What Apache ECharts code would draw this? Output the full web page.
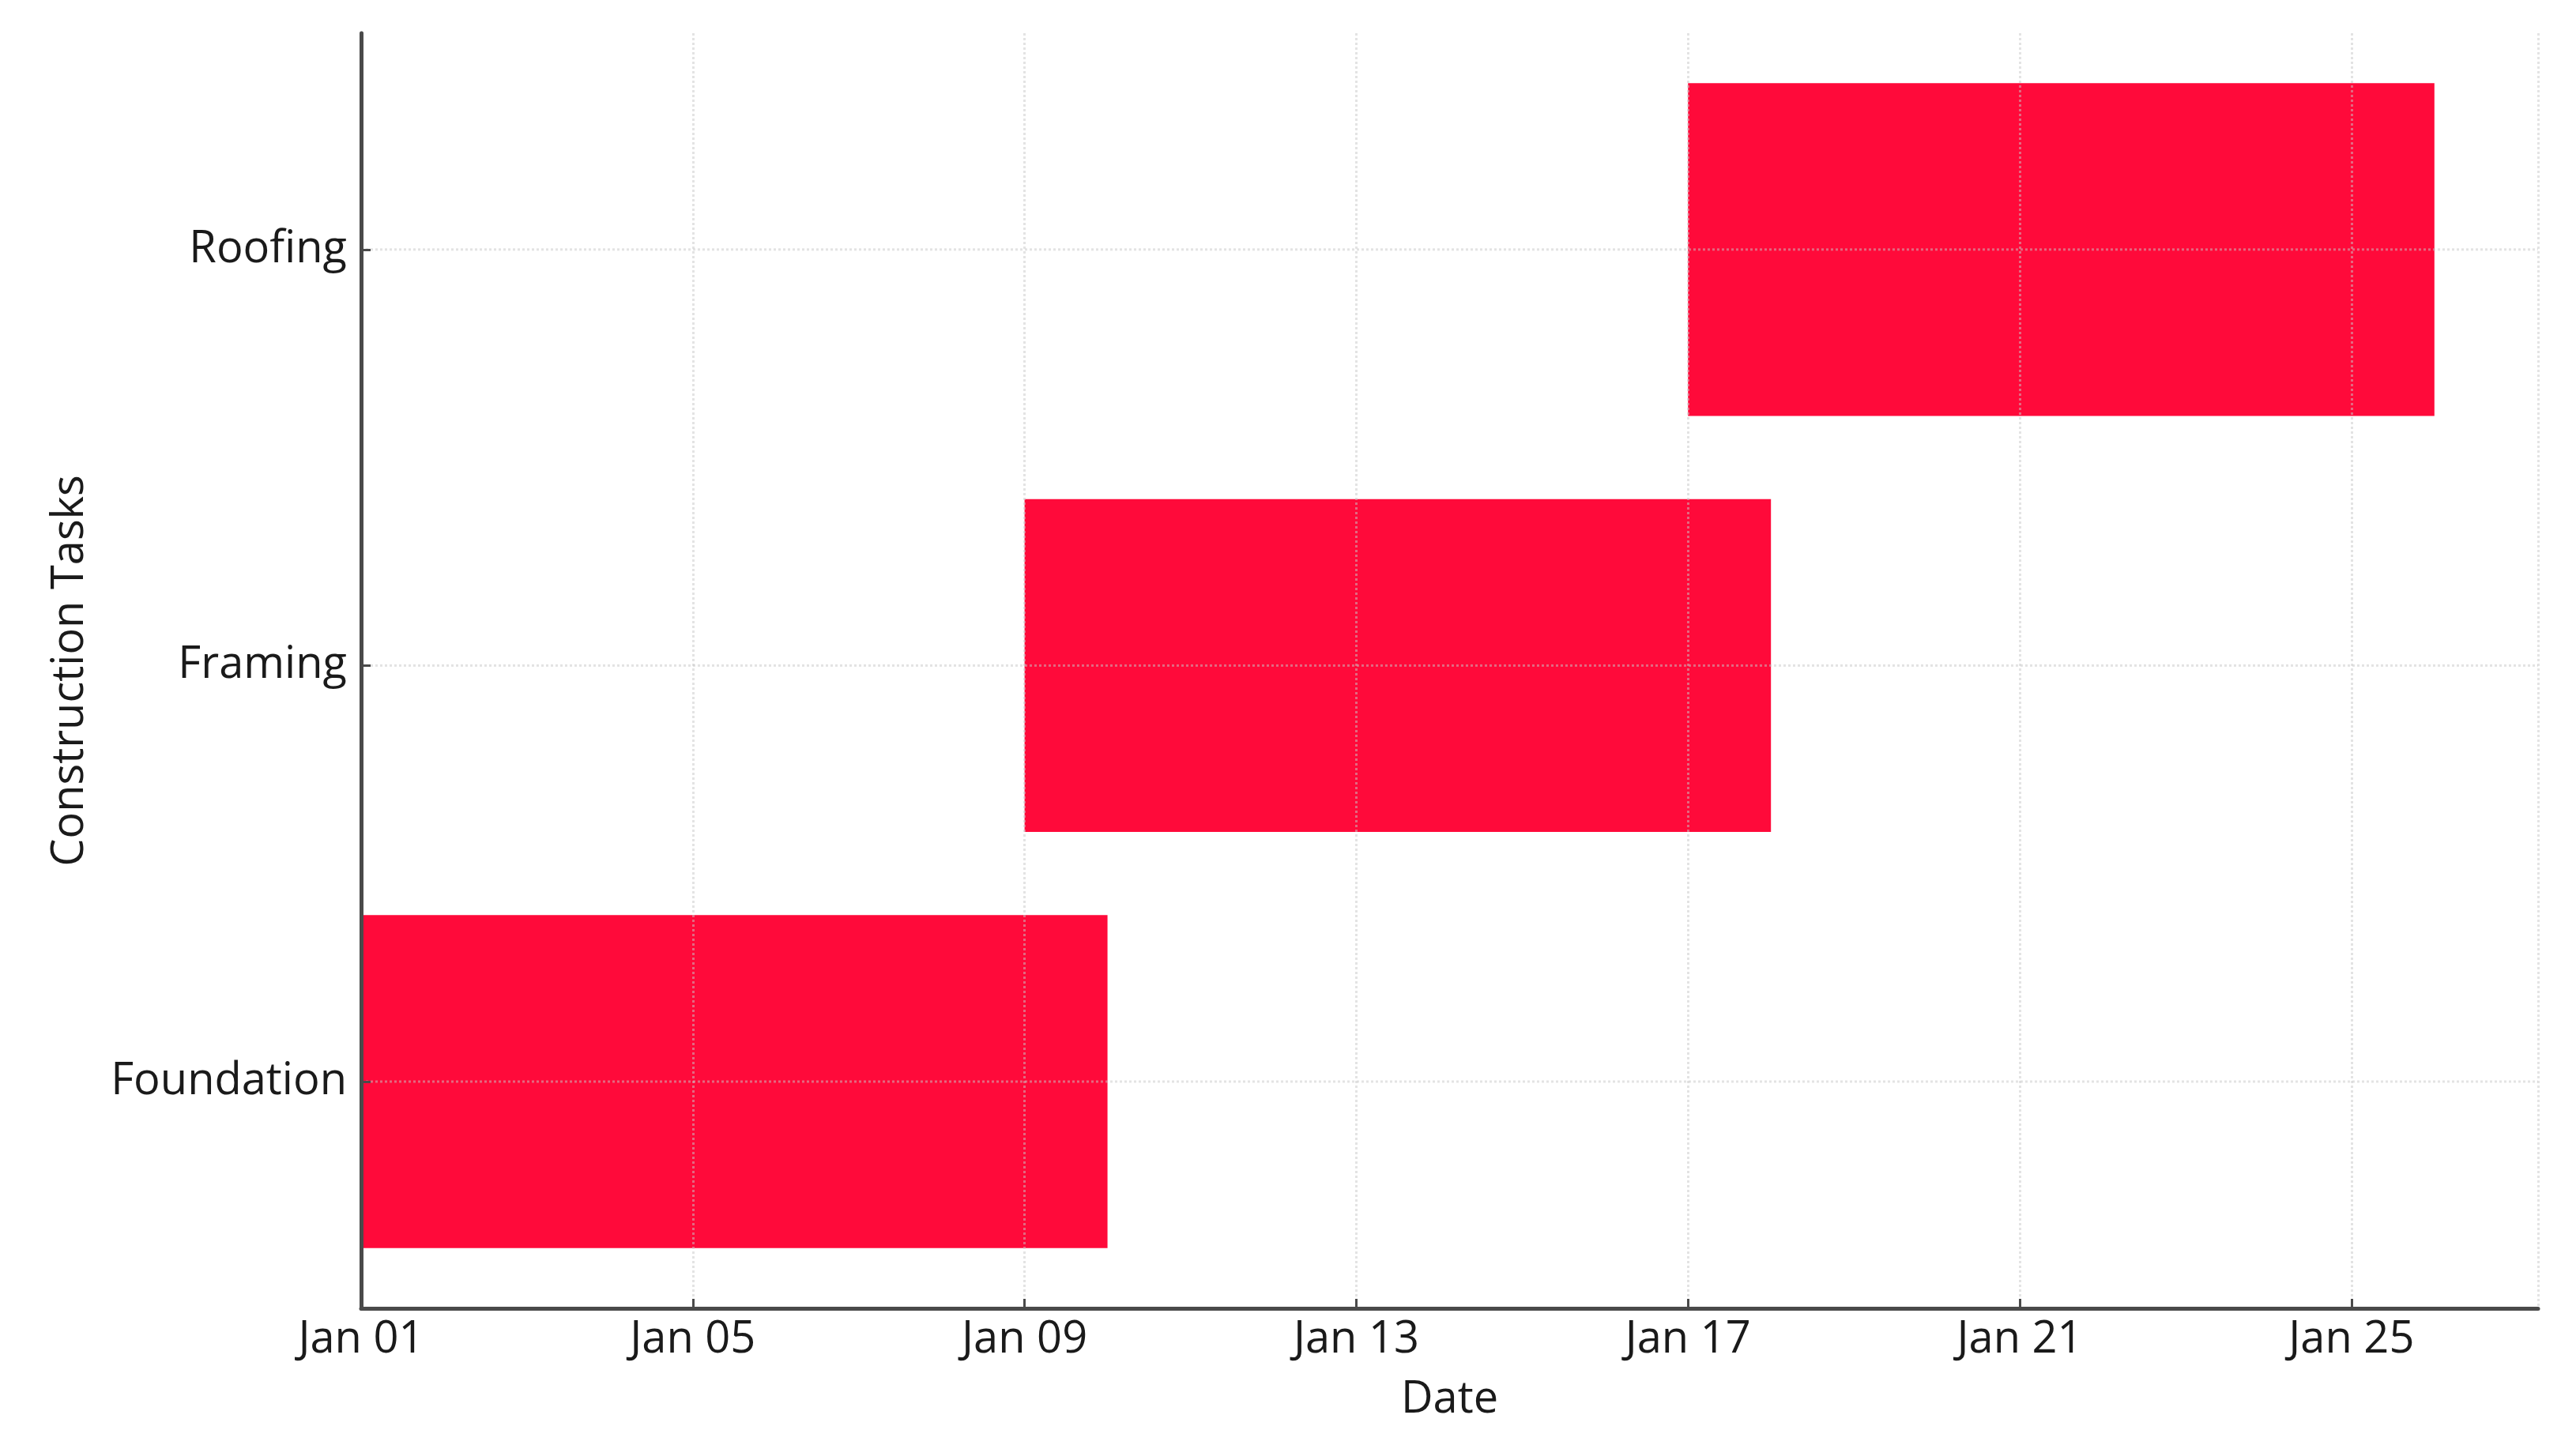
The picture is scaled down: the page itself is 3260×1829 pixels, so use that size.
<!DOCTYPE html>
<html>
<head>
<meta charset="utf-8">
<script src="https://cdn.jsdelivr.net/npm/echarts@6/dist/echarts.min.js"></script>
<style>html,body{margin:0;padding:0;background:#fff;}#chart{width:3260px;height:1829px;}</style>
</head>
<body>
<div id="chart"></div>
<script>
// Data
var tasks = ['Foundation', 'Framing', 'Roofing'];
var startDates = ['2024-01-01', '2024-01-09', '2024-01-17'];
var endDates = ['2024-01-10', '2024-01-18', '2024-01-26'];
var axisStart = '2024-01-01';
var axisEnd = '2024-01-27T06:00:00';
var tickDays = 4;

var DAY = 86400000;
var t0 = Date.parse(axisStart + 'T00:00:00Z');
function dayOffset(s) {
  var str = s.indexOf('T') >= 0 ? s + 'Z' : s + 'T00:00:00Z';
  return (Date.parse(str) - t0) / DAY;
}
var months = ['Jan','Feb','Mar','Apr','May','Jun','Jul','Aug','Sep','Oct','Nov','Dec'];
function fmt(v) {
  var d = new Date(t0 + v * DAY);
  var dd = d.getUTCDate();
  return months[d.getUTCMonth()] + ' ' + (dd < 10 ? '0' + dd : dd);
}

var data = tasks.map(function (t, i) {
  return [i, dayOffset(startDates[i]), dayOffset(endDates[i])];
});

var FONT = '"Open Sans", "DejaVu Sans", sans-serif';
var chart = echarts.init(document.getElementById('chart'));
chart.setOption({
  backgroundColor: '#ffffff',
  animation: false,
  grid: { left: 457, right: 48, top: 42, bottom: 173, containLabel: false },
  xAxis: {
    type: 'value',
    min: 0,
    max: dayOffset(axisEnd),
    interval: tickDays,
    z: 3,
    name: 'Date',
    nameLocation: 'middle',
    nameGap: 88,
    nameTextStyle: { fontFamily: FONT, fontSize: 56, color: '#1a1a1a' },
    axisLine: { show: true, onZero: false, lineStyle: { color: '#4a4a4a', width: 5 } },
    axisTick: { show: true, inside: true, length: 12, lineStyle: { color: '#4a4a4a', width: 3 } },
    axisLabel: { fontFamily: FONT, fontSize: 56, color: '#1a1a1a', margin: 12, formatter: fmt,
      showMaxLabel: false },
    splitLine: { show: true, lineStyle: { color: 'rgba(200,200,200,0.5)', width: 3, type: [3, 3] } }
  },
  yAxis: {
    type: 'value',
    min: -0.545,
    max: 2.52,
    z: 3,
    name: 'Construction Tasks',
    nameLocation: 'middle',
    nameGap: 340,
    nameRotate: 90,
    nameTextStyle: { fontFamily: FONT, fontSize: 56, color: '#1a1a1a' },
    axisLine: { show: true, onZero: false, lineStyle: { color: '#4a4a4a', width: 5 } },
    axisTick: { show: true, inside: true, length: 12, customValues: [0, 1, 2], lineStyle: { color: '#4a4a4a', width: 3 } },
    axisLabel: { fontFamily: FONT, fontSize: 56, color: '#1a1a1a', margin: 18,
      customValues: [0, 1, 2],
      formatter: function (v) { var i = Math.round(v); return tasks[i] || ''; } },
    splitLine: { show: false }
  },
  series: [{
    type: 'custom',
    z: 1,
    clip: true,
    renderItem: function (params, api) {
      var cat = api.value(0);
      var s = api.coord([api.value(1), cat]);
      var e = api.coord([api.value(2), cat]);
      var h = api.size([0, 0.8])[1];
      return {
        type: 'rect',
        shape: { x: s[0], y: s[1] - h / 2, width: e[0] - s[0], height: h },
        style: { fill: '#FF0A3A' }
      };
    },
    encode: { x: [1, 2], y: 0 },
    data: data
  }, {
    type: 'custom',
    z: 2,
    silent: true,
    renderItem: function (params, api) {
      var cat = api.value(0);
      var a = api.coord([0, cat]);
      var b = api.coord([dayOffset(axisEnd), cat]);
      return {
        type: 'line',
        shape: { x1: a[0], y1: a[1], x2: b[0], y2: b[1] },
        style: { stroke: 'rgba(200,200,200,0.5)', lineWidth: 3, lineDash: [3, 3] }
      };
    },
    encode: { x: 1, y: 0 },
    data: data
  }]
});
</script>
</body>
</html>
